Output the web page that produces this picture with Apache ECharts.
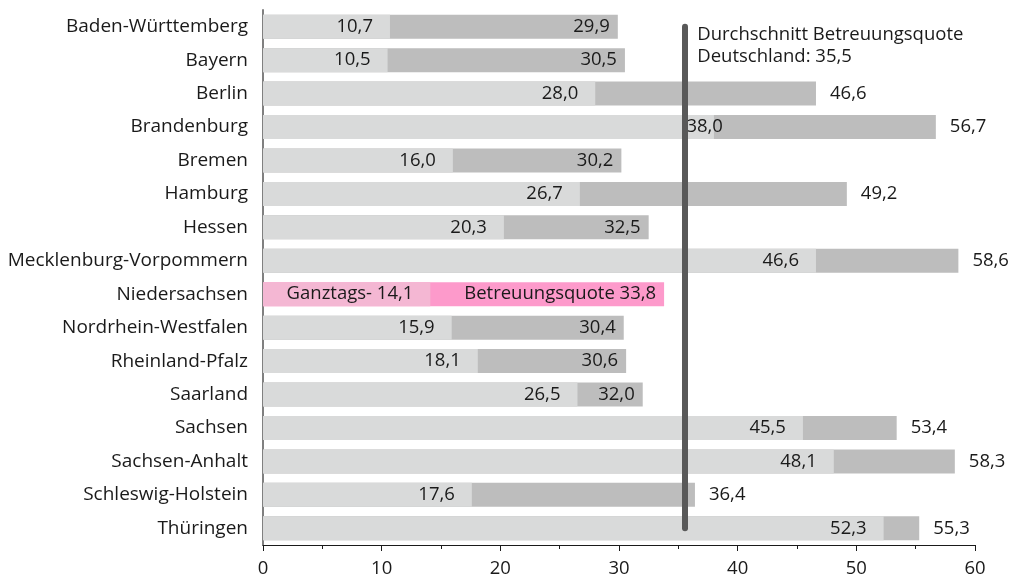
<!DOCTYPE html>
<html>
<head>
<meta charset="utf-8">
<script src="https://cdn.jsdelivr.net/npm/echarts@6/dist/echarts.min.js"></script>
<style>
  html, body { margin: 0; padding: 0; background: #fff; }
  #chart { width: 1013px; height: 578px; }
</style>
</head>
<body>
<div id="chart"></div>
<script>
// data
const states = ['Baden-Württemberg', 'Bayern', 'Berlin', 'Brandenburg', 'Bremen', 'Hamburg', 'Hessen',
  'Mecklenburg-Vorpommern', 'Niedersachsen', 'Nordrhein-Westfalen', 'Rheinland-Pfalz', 'Saarland',
  'Sachsen', 'Sachsen-Anhalt', 'Schleswig-Holstein', 'Thüringen'];
const ganztags = [10.7, 10.5, 28.0, 38.0, 16.0, 26.7, 20.3, 46.6, 14.1, 15.9, 18.1, 26.5, 45.5, 48.1, 17.6, 52.3];
const quote = [29.9, 30.5, 46.6, 56.7, 30.2, 49.2, 32.5, 58.6, 33.8, 30.4, 30.6, 32.0, 53.4, 58.3, 36.4, 55.3];
const average = 35.5;
const highlight = 'Niedersachsen';
const xTicks = [0, 10, 20, 30, 40, 50, 60];

const FONT = '"Open Sans", "Noto Sans", sans-serif';
const FS = 18.5;
const fmt = v => v.toFixed(1).replace('.', ',');

const chart = echarts.init(document.getElementById('chart'));

const quoteData = quote.map((v, i) => {
  const hl = states[i] === highlight;
  return {
    value: v,
    itemStyle: { color: hl ? '#fd9acb' : '#bdbdbd' },
    label: {
      position: v > average ? 'right' : 'insideRight',
      distance: v > average ? 14 : 8
    }
  };
});

const ganztagsData = ganztags.map((v, i) => {
  const hl = states[i] === highlight;
  const item = {
    value: v,
    itemStyle: { color: hl ? '#f4b7d3' : '#d9dada' }
  };
  // label would collide with the average line: push it to the right of it
  if (v > average && v < average + 4) {
    item.label = { offset: [26, 0] };
  }
  return item;
});

chart.setOption({
  animation: false,
  textStyle: { fontFamily: FONT },
  grid: { left: 263, right: 38, top: 10, bottom: 31 },
  xAxis: {
    type: 'value',
    min: xTicks[0],
    max: xTicks[xTicks.length - 1],
    interval: 10,
    splitLine: { show: false },
    axisLine: { show: true, lineStyle: { color: '#1a1a1a', width: 1 } },
    axisTick: { show: true, length: 6, lineStyle: { color: '#1a1a1a' } },
    minorTick: { show: true, splitNumber: 2, length: 4, lineStyle: { color: '#1a1a1a' } },
    axisLabel: { color: '#1a1a1a', fontSize: FS, margin: 14, fontFamily: FONT }
  },
  yAxis: {
    type: 'category',
    data: states,
    inverse: true,
    axisLine: { show: true, lineStyle: { color: '#808080', width: 2 } },
    axisTick: { show: false },
    axisLabel: { color: '#1a1a1a', fontSize: 19, margin: 15, fontFamily: FONT }
  },
  series: [
    {
      name: 'Betreuungsquote',
      type: 'bar',
      data: quoteData,
      barWidth: 24,
      barGap: '-100%',
      label: {
        show: true,
        color: '#1a1a1a',
        fontSize: FS,
        fontFamily: FONT,
        formatter: p => (p.name === highlight ? 'Betreuungsquote ' : '') + fmt(p.value)
      },
      markLine: {
        silent: true,
        symbol: 'none',
        z: 10,
        label: { show: false },
        lineStyle: { color: '#595959', width: 6, type: 'solid', cap: 'round' },
        data: [[
          { coord: [average, states[0]] },
          { coord: [average, states[states.length - 1]] }
        ]]
      }
    },
    {
      name: 'Ganztags',
      type: 'bar',
      data: ganztagsData,
      barWidth: 24,
      label: {
        show: true,
        position: 'insideRight',
        distance: 17,
        color: '#1a1a1a',
        fontSize: FS,
        fontFamily: FONT,
        formatter: p => (p.name === highlight ? 'Ganztags- ' : '') + fmt(p.value)
      }
    }
  ]
});

// annotation next to the average line
const pt = chart.convertToPixel({ gridIndex: 0 }, [average, states[0]]);
chart.setOption({
  graphic: [{
    type: 'text',
    left: pt[0] + 13,
    top: pt[1] - 3,
    style: {
      text: 'Durchschnitt Betreuungsquote\nDeutschland: ' + fmt(average),
      font: FS + 'px ' + FONT,
      fill: '#1a1a1a',
      lineHeight: 22
    }
  }]
});
</script>
</body>
</html>
